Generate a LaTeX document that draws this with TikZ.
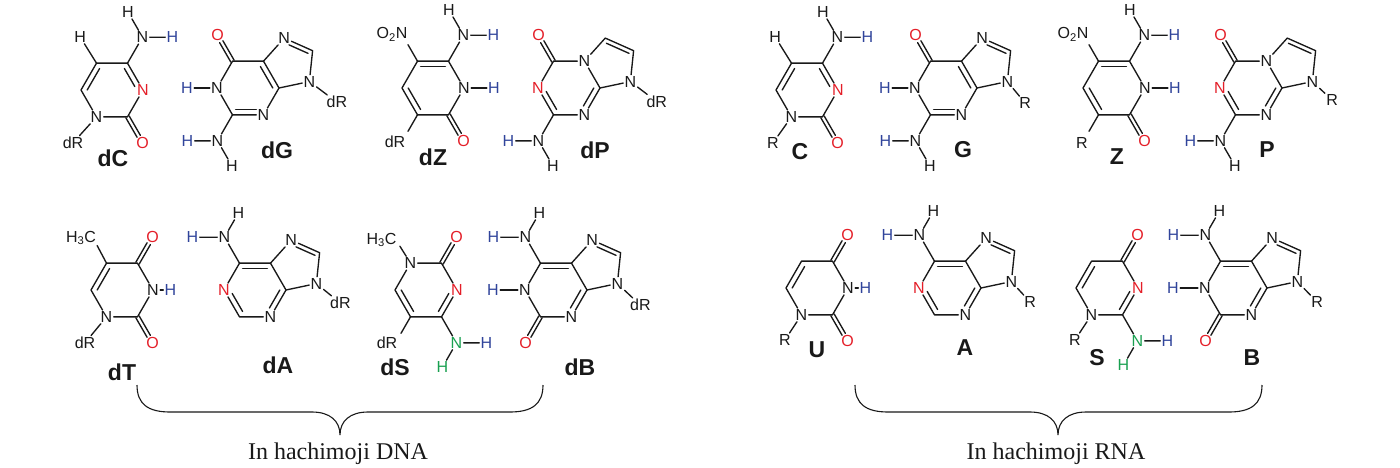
\documentclass[tikz,border=0pt]{standalone}
\usepackage{fontspec}
\setmainfont{Liberation Serif}
\newfontfamily\sansf{Liberation Sans}
\usetikzlibrary{calc}
\definecolor{molred}{RGB}{228,30,40}
\definecolor{molblue}{RGB}{48,68,155}
\definecolor{molgreen}{RGB}{25,160,80}
\definecolor{ink}{RGB}{25,25,25}
\newcommand\atomfont{\sansf\fontsize{16}{16}\selectfont}
\newcommand\namefont{\sansf\bfseries\fontsize{23}{23}\selectfont}
\tikzset{
 bond/.style={draw=ink,line width=1.35pt,line cap=round,line join=round},
 atom/.style={font=\atomfont,text=ink,inner sep=1.2pt},
 ared/.style={atom,text=molred},
 ablue/.style={atom,text=molblue},
 agreen/.style={atom,text=molgreen},
 molname/.style={font=\namefont,text=ink,inner sep=0pt},
 brace/.style={draw=ink,line width=1.1pt},
 captxt/.style={font=\fontsize{24}{24}\selectfont,text=ink,inner sep=0pt,anchor=base}
}
% inner double bond line
\newcommand\inb[4][]{\draw[bond,#1] ($(#2)!0.2!(#4)$) -- ($(#3)!0.2!(#4)$);}
% exocyclic double bond
\newcommand\exb[2]{%
 \draw[bond,shorten >=7.5pt] ($(#1)!1.9pt!90:(#2)$) -- ($(#2)!1.9pt!-90:(#1)$);
 \draw[bond,shorten >=7.5pt] ($(#1)!1.9pt!-90:(#2)$) -- ($(#2)!1.9pt!90:(#1)$);}
% cytosine
\newcommand\MolC[4]{%
 \coordinate (#1c) at #2;
 \node[ared] (#1N3) at ($(#1c)+(0:31)$) {N};
 \coordinate (#1C4) at ($(#1c)+(-60:31)$);
 \coordinate (#1C5) at ($(#1c)+(-120:31)$);
 \coordinate (#1C6) at ($(#1c)+(180:31)$);
 \node[atom] (#1N1) at ($(#1c)+(120:31)$) {N};
 \coordinate (#1C2) at ($(#1c)+(60:31)$);
 \draw[bond] (#1N3) -- (#1C4) -- (#1C5) -- (#1C6) -- (#1N1) -- (#1C2) -- (#1N3);
 \inb{#1C5}{#1C6}{#1c}
 \inb[shorten >=4pt]{#1C4}{#1N3}{#1c}
 \node[ared] (#1O2) at ($(#1C2)+(60:30)$) {O};
 \exb{#1C2}{#1O2}
 \node[atom] (#1N4) at ($(#1C4)+(-60:30)$) {N};
 \node[ablue] (#1H4a) at ($(#1N4)+(30,0)$) {H};
 \node[atom] (#1H4b) at ($(#1N4)+(-120:29)$) {H};
 \draw[bond] (#1C4) -- (#1N4) -- (#1H4a);
 \draw[bond] (#1N4) -- (#1H4b);
 \node[atom] (#1H5) at ($(#1C5)+(-122:31)$) {H};
 \draw[bond] (#1C5) -- (#1H5);
 \node[atom] (#1R) at ($(#1N1)+#4$) {#3};
 \draw[bond] (#1N1) -- (#1R);
}
% guanine
\newcommand\MolG[4]{%
 \coordinate (#1c) at #2;
 \coordinate (#1pc) at ($(#1c)+(-30:48.2)$);
 \node[atom] (#1N1) at ($(#1c)+(180:31)$) {N};
 \coordinate (#1C2) at ($(#1c)+(120:31)$);
 \node[atom] (#1N3) at ($(#1c)+(60:31)$) {N};
 \coordinate (#1C4) at ($(#1c)+(0:31)$);
 \coordinate (#1C5) at ($(#1c)+(-60:31)$);
 \coordinate (#1C6) at ($(#1c)+(-120:31)$);
 \node[atom] (#1N7) at ($(#1pc)+(258:26.4)$) {N};
 \coordinate (#1C8) at ($(#1pc)+(330:26.4)$);
 \node[atom] (#1N9) at ($(#1pc)+(42:26.4)$) {N};
 \draw[bond] (#1N1) -- (#1C2) -- (#1N3) -- (#1C4) -- (#1C5) -- (#1C6) -- (#1N1);
 \draw[bond] (#1C5) -- (#1N7) -- (#1C8) -- (#1N9) -- (#1C4);
 \inb[shorten >=4pt]{#1C2}{#1N3}{#1c}
 \inb{#1C5}{#1C4}{#1c}
 \inb[shorten <=4pt]{#1N7}{#1C8}{#1pc}
 \node[ared] (#1O6) at ($(#1C6)+(-120:30)$) {O};
 \exb{#1C6}{#1O6}
 \node[ablue] (#1H1) at ($(#1N1)+(-30,0)$) {H};
 \draw[bond] (#1N1) -- (#1H1);
 \node[atom] (#1N2) at ($(#1C2)+(120:30)$) {N};
 \node[ablue] (#1H2a) at ($(#1N2)+(-30,0)$) {H};
 \node[atom] (#1H2b) at ($(#1N2)+(60:29)$) {H};
 \draw[bond] (#1C2) -- (#1N2) -- (#1H2a);
 \draw[bond] (#1N2) -- (#1H2b);
 \node[atom] (#1R) at ($(#1N9)+#4$) {#3};
 \draw[bond] (#1N9) -- (#1R);
}
% Z
\newcommand\MolZ[4]{%
 \coordinate (#1c) at #2;
 \node[atom] (#1N1) at ($(#1c)+(0:31)$) {N};
 \coordinate (#1C6) at ($(#1c)+(-60:31)$);
 \coordinate (#1C5) at ($(#1c)+(-120:31)$);
 \coordinate (#1C4) at ($(#1c)+(180:31)$);
 \coordinate (#1C3) at ($(#1c)+(120:31)$);
 \coordinate (#1C2) at ($(#1c)+(60:31)$);
 \draw[bond] (#1N1) -- (#1C6) -- (#1C5) -- (#1C4) -- (#1C3) -- (#1C2) -- (#1N1);
 \inb{#1C5}{#1C6}{#1c}
 \inb{#1C4}{#1C3}{#1c}
 \node[ared] (#1O) at ($(#1C2)+(60:30)$) {O};
 \exb{#1C2}{#1O}
 \node[ablue] (#1H1) at ($(#1N1)+(30,0)$) {H};
 \draw[bond] (#1N1) -- (#1H1);
 \node[atom] (#1N6) at ($(#1C6)+(-60:30)$) {N};
 \node[ablue] (#1H6a) at ($(#1N6)+(30,0)$) {H};
 \node[atom] (#1H6b) at ($(#1N6)+(-120:29)$) {H};
 \draw[bond] (#1C6) -- (#1N6) -- (#1H6a);
 \draw[bond] (#1N6) -- (#1H6b);
 \node[atom] (#1NO) at ($(#1C5)+(-120:31)+(-10,0)$) {O\textsubscript{2}N};
 \draw[bond] (#1C5) -- ++(-120:19);
 \node[atom] (#1R) at ($(#1C3)+#4$) {#3};
 \draw[bond] (#1C3) -- ++(120:19);
}
% P
\newcommand\MolP[4]{%
 \coordinate (#1c) at #2;
 \coordinate (#1pc) at ($(#1c)+(-30:48.2)$);
 \node[ared] (#1Na) at ($(#1c)+(180:31)$) {N};
 \coordinate (#1Cb) at ($(#1c)+(120:31)$);
 \node[atom] (#1Nc) at ($(#1c)+(60:31)$) {N};
 \coordinate (#1Cd) at ($(#1c)+(0:31)$);
 \node[atom] (#1Ne) at ($(#1c)+(-60:31)$) {N};
 \coordinate (#1Cf) at ($(#1c)+(-120:31)$);
 \coordinate (#1Cg) at ($(#1pc)+(258:26.4)$);
 \coordinate (#1Ch) at ($(#1pc)+(330:26.4)$);
 \node[atom] (#1Ni) at ($(#1pc)+(42:26.4)$) {N};
 \draw[bond] (#1Na) -- (#1Cb) -- (#1Nc) -- (#1Cd) -- (#1Ne) -- (#1Cf) -- (#1Na);
 \draw[bond] (#1Ne) -- (#1Cg) -- (#1Ch) -- (#1Ni) -- (#1Cd);
 \inb[shorten <=4pt]{#1Na}{#1Cb}{#1c}
 \inb[shorten >=4pt]{#1Cd}{#1Nc}{#1c}
 \inb{#1Cg}{#1Ch}{#1pc}
 \node[ared] (#1O) at ($(#1Cf)+(-120:30)$) {O};
 \exb{#1Cf}{#1O}
 \node[atom] (#1N2) at ($(#1Cb)+(120:30)$) {N};
 \node[ablue] (#1H2a) at ($(#1N2)+(-30,0)$) {H};
 \node[atom] (#1H2b) at ($(#1N2)+(60:29)$) {H};
 \draw[bond] (#1Cb) -- (#1N2) -- (#1H2a);
 \draw[bond] (#1N2) -- (#1H2b);
 \node[atom] (#1R) at ($(#1Ni)+#4$) {#3};
 \draw[bond] (#1Ni) -- (#1R);
}
% T / U
\newcommand\MolT[4]{%
 \coordinate (#1c) at #2;
 \node[atom] (#1N3) at ($(#1c)+(0:31)$) {N};
 \coordinate (#1C4) at ($(#1c)+(-60:31)$);
 \coordinate (#1C5) at ($(#1c)+(-120:31)$);
 \coordinate (#1C6) at ($(#1c)+(180:31)$);
 \node[atom] (#1N1) at ($(#1c)+(120:31)$) {N};
 \coordinate (#1C2) at ($(#1c)+(60:31)$);
 \draw[bond] (#1N3) -- (#1C4) -- (#1C5) -- (#1C6) -- (#1N1) -- (#1C2) -- (#1N3);
 \inb{#1C5}{#1C6}{#1c}
 \node[ared] (#1O4) at ($(#1C4)+(-60:30)$) {O};
 \exb{#1C4}{#1O4}
 \node[ared] (#1O2) at ($(#1C2)+(60:30)$) {O};
 \exb{#1C2}{#1O2}
 \node[ablue] (#1H3) at ($(#1N3)+(17.5,0)$) {H};
 \draw[bond] (#1N3) -- (#1H3);
 \node[atom] (#1R) at ($(#1N1)+#4$) {#3};
 \draw[bond] (#1N1) -- (#1R);
}
% purine skeleton helper for A and B
\newcommand\PurSkel[1]{%
 \coordinate (#1C2) at ($(#1c)+(120:31)$);
 \node[atom] (#1N3) at ($(#1c)+(60:31)$) {N};
 \coordinate (#1C4) at ($(#1c)+(0:31)$);
 \coordinate (#1C5) at ($(#1c)+(-60:31)$);
 \coordinate (#1C6) at ($(#1c)+(-120:31)$);
 \node[atom] (#1N7) at ($(#1pc)+(258:26.4)$) {N};
 \coordinate (#1C8) at ($(#1pc)+(330:26.4)$);
 \node[atom] (#1N9) at ($(#1pc)+(42:26.4)$) {N};
 \draw[bond] (#1N1) -- (#1C2) -- (#1N3) -- (#1C4) -- (#1C5) -- (#1C6) -- (#1N1);
 \draw[bond] (#1C5) -- (#1N7) -- (#1C8) -- (#1N9) -- (#1C4);
 \inb{#1C6}{#1C5}{#1c}
 \inb[shorten <=4pt]{#1N3}{#1C4}{#1c}
 \inb[shorten <=4pt]{#1N7}{#1C8}{#1pc}
 \node[atom] (#1N6) at ($(#1C6)+(-120:30)$) {N};
 \node[ablue] (#1H6a) at ($(#1N6)+(-32,0)$) {H};
 \node[atom] (#1H6b) at ($(#1N6)+(-60:28)$) {H};
 \draw[bond] (#1C6) -- (#1N6) -- (#1H6a);
 \draw[bond] (#1N6) -- (#1H6b);
}
\newcommand\MolA[4]{%
 \coordinate (#1c) at #2;
 \coordinate (#1pc) at ($(#1c)+(-30:48.2)$);
 \node[ared] (#1N1) at ($(#1c)+(180:31)$) {N};
 \PurSkel{#1}
 \inb[shorten <=4pt]{#1N1}{#1C2}{#1c}
 \node[atom] (#1R) at ($(#1N9)+#4$) {#3};
 \draw[bond] (#1N9) -- (#1R);
}
\newcommand\MolB[4]{%
 \coordinate (#1c) at #2;
 \coordinate (#1pc) at ($(#1c)+(-30:48.2)$);
 \node[atom] (#1N1) at ($(#1c)+(180:31)$) {N};
 \PurSkel{#1}
 \node[ablue] (#1H1) at ($(#1N1)+(-32,0)$) {H};
 \draw[bond] (#1N1) -- (#1H1);
 \node[ared] (#1O2) at ($(#1C2)+(120:30)$) {O};
 \exb{#1C2}{#1O2}
 \node[atom] (#1R) at ($(#1N9)+#4$) {#3};
 \draw[bond] (#1N9) -- (#1R);
}
% S (DNA, C-glycoside with methyl)
\newcommand\MolSd[4]{%
 \coordinate (#1c) at #2;
 \node[atom] (#1N1) at ($(#1c)+(-120:31)$) {N};
 \coordinate (#1C2) at ($(#1c)+(-60:31)$);
 \node[ared] (#1N3) at ($(#1c)+(0:31)$) {N};
 \coordinate (#1C4) at ($(#1c)+(60:31)$);
 \coordinate (#1C5) at ($(#1c)+(120:31)$);
 \coordinate (#1C6) at ($(#1c)+(180:31)$);
 \draw[bond] (#1N1) -- (#1C2) -- (#1N3) -- (#1C4) -- (#1C5) -- (#1C6) -- (#1N1);
 \inb{#1C6}{#1C5}{#1c}
 \inb[shorten <=4pt]{#1N3}{#1C4}{#1c}
 \node[ared] (#1O) at ($(#1C2)+(-60:30)$) {O};
 \exb{#1C2}{#1O}
 \node[agreen] (#1N4) at ($(#1C4)+(60:30)$) {N};
 \node[ablue] (#1H4a) at ($(#1N4)+(30,0)$) {H};
 \node[agreen] (#1H4b) at ($(#1N4)+(120:28)$) {H};
 \draw[bond] (#1C4) -- (#1N4) -- (#1H4a);
 \draw[bond] (#1N4) -- (#1H4b);
 \node[atom] (#1Me) at ($(#1N1)+(-29,-23)$) {H\textsubscript{3}C};
 \draw[bond] (#1N1) -- ++(-122:20);
 \node[atom] (#1R) at ($(#1C5)+#4$) {#3};
 \draw[bond] (#1C5) -- ++(120:19);
}
% S (RNA, N-glycoside)
\newcommand\MolSr[4]{%
 \coordinate (#1c) at #2;
 \coordinate (#1C5) at ($(#1c)+(-120:31)$);
 \coordinate (#1C4) at ($(#1c)+(-60:31)$);
 \node[ared] (#1N3) at ($(#1c)+(0:31)$) {N};
 \coordinate (#1C2) at ($(#1c)+(60:31)$);
 \node[atom] (#1N1) at ($(#1c)+(120:31)$) {N};
 \coordinate (#1C6) at ($(#1c)+(180:31)$);
 \draw[bond] (#1C5) -- (#1C4) -- (#1N3) -- (#1C2) -- (#1N1) -- (#1C6) -- (#1C5);
 \inb{#1C5}{#1C6}{#1c}
 \inb[shorten <=4pt]{#1N3}{#1C2}{#1c}
 \node[ared] (#1O) at ($(#1C4)+(-60:30)$) {O};
 \exb{#1C4}{#1O}
 \node[agreen] (#1N2) at ($(#1C2)+(60:30)$) {N};
 \node[ablue] (#1H2a) at ($(#1N2)+(30,0)$) {H};
 \node[agreen] (#1H2b) at ($(#1N2)+(120:28)$) {H};
 \draw[bond] (#1C2) -- (#1N2) -- (#1H2a);
 \draw[bond] (#1N2) -- (#1H2b);
 \node[atom] (#1R) at ($(#1N1)+#4$) {#3};
 \draw[bond] (#1N1) -- (#1R);
}
\begin{document}
\begin{tikzpicture}[x=1pt,y=-1pt]
\useasboundingbox (0,0) rectangle (1400,467);
\fill[white] (0,0) rectangle (1400,467);
% ---------------- DNA ----------------
\MolC{dc-}{(112,90)}{dR}{(-23.5,26)}
\node[molname] (n-dC) at (113,158) {dC};
\MolG{dg-}{(248,88)}{dR}{(27.6,20.6)}
\node[molname] (n-dG) at (277,150) {dG};
\MolZ{dz-}{(433,88)}{dR}{(-22.5,27)}
\node[molname] (n-dZ) at (433,157) {dZ};
\MolP{dp-}{(569,88)}{dR}{(26.4,20.1)}
\node[molname] (n-dP) at (595,150) {dP};
\MolT{dt-}{(122,290)}{dR}{(-21.5,26)}
\node[atom] (dt-Me) at (81,238) {H\textsubscript{3}C};
\draw[bond] (dt-C5) -- ++(-118:20);
\node[molname] (n-dT) at (122,372) {dT};
\MolA{da-}{(255,290)}{dR}{(24,19.5)}
\node[molname] (n-dA) at (278,365) {dA};
\MolSd{ds-}{(426,290)}{dR}{(-23.5,26)}
\node[molname] (n-dS) at (395,367) {dS};
\MolB{db-}{(556,290)}{dR}{(23,21.5)}
\node[molname] (n-dB) at (580,367) {dB};
% ---------------- RNA ----------------
\MolC{rc-}{(807,90)}{R}{(-18.5,26)}
\node[molname] (n-C) at (800,152) {C};
\MolG{rg-}{(946,88)}{R}{(17.7,21.4)}
\node[molname] (n-G) at (963,150) {G};
\MolZ{rz-}{(1114,88)}{R}{(-16.5,28)}
\node[molname] (n-Z) at (1117,157) {Z};
\MolP{rp-}{(1251,88)}{R}{(19.7,18.4)}
\node[molname] (n-P) at (1267,150) {P};
\MolT{ru-}{(817,288)}{R}{(-16.5,25)}
\node[molname] (n-U) at (817,350) {U};
\MolA{ra-}{(950,288)}{R}{(18.7,20.4)}
\node[molname] (n-A) at (965,348) {A};
\MolSr{rs-}{(1107,288)}{R}{(-16.5,25)}
\node[molname] (n-S) at (1097,358) {S};
\MolB{rb-}{(1236,288)}{R}{(19.7,20.4)}
\node[molname] (n-B) at (1252,358) {B};
% ---------------- braces ----------------
\draw[brace] (137,385) .. controls (137,404) and (148,412) .. (170,412) -- (312,412)
  .. controls (330,412) and (340,421) .. (340,435)
  .. controls (340,421) and (350,412) .. (368,412) -- (510,412)
  .. controls (532,412) and (543,404) .. (543,385);
\node[captxt] (cap-dna) at (338,459) {In hachimoji DNA};
\draw[brace] (855,385) .. controls (855,404) and (866,412) .. (888,412) -- (1030,412)
  .. controls (1048,412) and (1058,421) .. (1058,435)
  .. controls (1058,421) and (1068,412) .. (1086,412) -- (1229,412)
  .. controls (1251,412) and (1262,404) .. (1262,385);
\node[captxt] (cap-rna) at (1056,459) {In hachimoji RNA};
\end{tikzpicture}
\end{document}
